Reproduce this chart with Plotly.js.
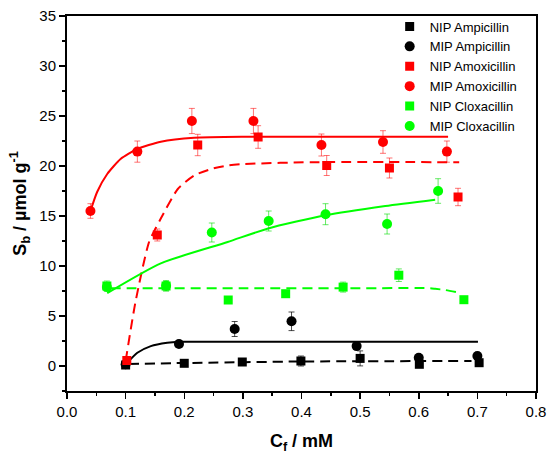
<!DOCTYPE html>
<html><head><meta charset="utf-8">
<script src="https://cdn.plot.ly/plotly-3.0.1.min.js"></script>
<style>html,body{margin:0;padding:0;background:#fff}#chart{width:550px;height:454px}</style>
</head><body><div id="chart"></div>
<script>
// Data points
var nipAmpX = [0.100, 0.200, 0.299, 0.399, 0.500, 0.601, 0.703];
var nipAmpY = [0.10, 0.27, 0.40, 0.50, 0.76, 0.17, 0.33];
var nipAmpE = [0.3, 0.3, 0.3, 0.5, 0.75, 0.3, 0.3];

var mipAmpX = [0.100, 0.191, 0.286, 0.383, 0.494, 0.600, 0.700];
var mipAmpY = [0.17, 2.20, 3.70, 4.47, 1.99, 0.83, 1.00];
var mipAmpE = [0.3, 0.3, 0.75, 0.93, 0.3, 0.3, 0.3];

var nipAmoX = [0.102, 0.154, 0.223, 0.326, 0.443, 0.550, 0.667];
var nipAmoY = [0.55, 13.1, 22.1, 22.9, 20.05, 19.8, 16.9];
var nipAmoE = [0.3, 0.6, 1.07, 1.13, 1.0, 1.0, 0.87];

var mipAmoX = [0.040, 0.120, 0.213, 0.318, 0.434, 0.539, 0.648];
var mipAmoY = [15.5, 21.44, 24.5, 24.5, 22.1, 22.4, 21.44];
var mipAmoE = [0.73, 1.06, 1.26, 1.26, 1.1, 1.13, 1.06];

var nipCloX = [0.068, 0.169, 0.275, 0.373, 0.471, 0.566, 0.677];
var nipCloY = [8.0, 8.0, 6.6, 7.23, 7.89, 9.08, 6.63];
var nipCloE = [0.5, 0.5, 0.3, 0.3, 0.5, 0.63, 0.3];

var mipCloX = [0.068, 0.169, 0.247, 0.344, 0.441, 0.546, 0.633];
var mipCloY = [7.9, 8.02, 13.35, 14.5, 15.18, 14.2, 17.5];
var mipCloE = [0.4, 0.5, 0.95, 1.0, 1.05, 1.0, 1.23];

// Fit curves
var fitMipAmoX = [0.040, 0.0514, 0.0686, 0.0914, 0.120, 0.160, 0.217, 0.300, 0.650];
var fitMipAmoY = [15.5, 17.4, 19.2, 20.7, 21.7, 22.43, 22.83, 22.93, 22.93];
var fitNipAmoX = [0.100, 0.117, 0.140, 0.160, 0.189, 0.217, 0.246, 0.274, 0.303, 0.417, 0.669];
var fitNipAmoY = [0.5, 6.46, 12.4, 14.74, 17.7, 19.05, 19.7, 20.05, 20.2, 20.38, 20.38];
var fitMipAmpX = [0.103, 0.120, 0.143, 0.171, 0.191, 0.300, 0.701];
var fitMipAmpY = [0.33, 1.32, 1.99, 2.32, 2.42, 2.42, 2.42];
var fitNipAmpX = [0.105, 0.200, 0.400, 0.690];
var fitNipAmpY = [0.2, 0.3, 0.45, 0.5];
var fitMipCloX = [0.0686, 0.160, 0.274, 0.343, 0.441, 0.543, 0.628];
var fitMipCloY = [7.29, 10.27, 12.4, 13.75, 15.08, 16.0, 16.63];
var fitNipCloX = [0.074, 0.300, 0.500, 0.617, 0.628, 0.645, 0.665];
var fitNipCloY = [7.78, 7.78, 7.78, 7.78, 7.72, 7.6, 7.39];

function pts(name, x, y, e, color, errColor, symbol, size) {
  return {type:'scatter', mode:'markers', name:name, x:x, y:y,
    marker:{color:color, symbol:symbol, size:size, line:{width:0}},
    error_y:{type:'data', array:e, visible:true, color:errColor, thickness:1, width:3}};
}
function fit(x, y, color, dash) {
  return {type:'scatter', mode:'lines', x:x, y:y, showlegend:false, hoverinfo:'skip',
    line:{color:color, width:2, dash:dash, shape:'spline', smoothing:0.6}};
}
var traces = [
  fit(fitMipAmoX, fitMipAmoY, '#ff0000', 'solid'),
  fit(fitNipAmoX, fitNipAmoY, '#ff0000', '10px,6px'),
  fit(fitMipAmpX, fitMipAmpY, '#000000', 'solid'),
  fit(fitNipAmpX, fitNipAmpY, '#000000', '10px,6px'),
  fit(fitMipCloX, fitMipCloY, '#00ff00', 'solid'),
  fit(fitNipCloX, fitNipCloY, '#00ff00', '10px,6px'),
  pts('NIP Ampicillin', nipAmpX, nipAmpY, nipAmpE, '#000000', 'rgba(0,0,0,0.7)', 'square', 9),
  pts('MIP Ampicillin', mipAmpX, mipAmpY, mipAmpE, '#000000', 'rgba(0,0,0,0.7)', 'circle', 10),
  pts('NIP Amoxicillin', nipAmoX, nipAmoY, nipAmoE, '#ff0000', 'rgba(255,0,0,0.55)', 'square', 9),
  pts('MIP Amoxicillin', mipAmoX, mipAmoY, mipAmoE, '#ff0000', 'rgba(255,0,0,0.55)', 'circle', 10),
  pts('NIP Cloxacillin', nipCloX, nipCloY, nipCloE, '#00ff00', 'rgba(0,220,0,0.6)', 'square', 9),
  pts('MIP Cloxacillin', mipCloX, mipCloY, mipCloE, '#00ff00', 'rgba(0,220,0,0.6)', 'circle', 10)
];
var font = {family:'Liberation Sans, Arial, sans-serif', color:'#000'};
var layout = {
  width:550, height:454,
  margin:{l:67, r:14, t:13, b:63},
  paper_bgcolor:'#fff', plot_bgcolor:'#fff',
  font:{family:font.family, size:14, color:'#000'},
  showlegend:true,
  legend:{x:0.688, y:1.012, xanchor:'left', yanchor:'top', bgcolor:'rgba(0,0,0,0)',
    font:{family:font.family, size:13, color:'#000'}, tracegroupgap:0, itemwidth:30},
  xaxis:{range:[0,0.8], tickvals:[0,0.1,0.2,0.3,0.4,0.5,0.6,0.7,0.8],
    ticktext:['0.0','0.1','0.2','0.3','0.4','0.5','0.6','0.7','0.8'],
    ticks:'outside', ticklen:6, tickwidth:1.5, tickcolor:'#000',
    minor:{dtick:0.05, ticks:'outside', ticklen:3, tickwidth:1.5, tickcolor:'#000'},
    showline:true, linewidth:2, linecolor:'#000', mirror:true, showgrid:false, zeroline:false,
    tickfont:{family:font.family, size:15, color:'#000'},
    title:{text:'<b>C<sub>f</sub> / mM</b>', font:{family:font.family, size:18, color:'#000'}, standoff:16}},
  yaxis:{range:[-2.5,35], tickvals:[0,5,10,15,20,25,30,35],
    ticks:'outside', ticklen:6, tickwidth:1.5, tickcolor:'#000',
    minor:{dtick:2.5, ticks:'outside', ticklen:3, tickwidth:1.5, tickcolor:'#000'},
    showline:true, linewidth:2, linecolor:'#000', mirror:true, showgrid:false, zeroline:false,
    tickfont:{family:font.family, size:15, color:'#000'},
    title:{text:'<b>S<sub>b</sub> / µmol g<sup>-1</sup></b>', font:{family:font.family, size:18, color:'#000'}, standoff:8}}
};
Plotly.newPlot('chart', traces, layout, {displayModeBar:false, staticPlot:true});
</script></body></html>
